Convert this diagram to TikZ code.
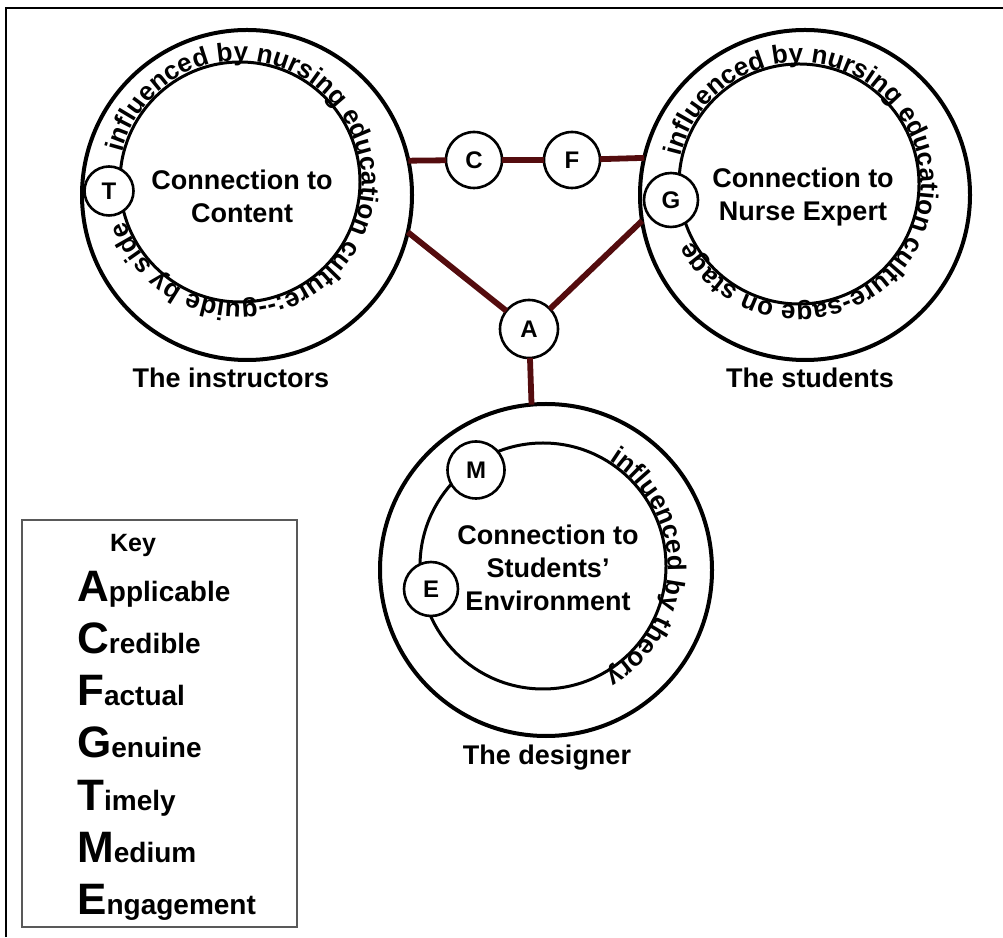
\documentclass[tikz,border=0pt]{standalone}
\usepackage{fontspec}
\setmainfont{Liberation Sans}
\usetikzlibrary{decorations.text}
\definecolor{linkred}{RGB}{84,12,14}

\begin{document}
\begin{tikzpicture}[x=1pt,y=1pt,
  ring/.style={circle, draw, line width=4pt, inner sep=0pt, outer sep=0pt, minimum size=#1},
  band/.style={draw, line width=3pt},
  badge/.style={circle, draw, fill=white, line width=2.6pt, inner sep=0pt, outer sep=0pt,
    minimum size=#1, font=\fontsize{24}{24}\selectfont\bfseries},
  title/.style={align=center, font=\fontsize{27}{33}\selectfont\bfseries},
  caption/.style={font=\fontsize{27}{27}\selectfont\bfseries},
  link/.style={draw=linkred, line width=5.8pt},
  keybox/.style={draw=black!65, line width=1.5pt, inner sep=0pt, minimum width=275pt, minimum height=407pt},
  keyrow/.style={anchor=base west, inner sep=0pt, font=\fontsize{28}{28}\selectfont\bfseries},
  curved/.style={decorate, decoration={text along path, text align=fit to path, text={#1}}},
]
\newcommand{\bigini}[1]{{\fontsize{44}{44}\selectfont #1}}
\newcommand{\ringfont}{\fontsize{26}{26}\selectfont\bfseries}
\useasboundingbox (0,0) rectangle (1003,937);

% outer frame
\draw[line width=2pt] (6,0) -- (6,929) -- (1003,929);

% ---- the instructors ----
\node[ring=330pt] (L) at (247,742) {};
\draw[band] (240,755) circle[radius=120];
\path[curved={|\ringfont|influenced by nursing education culture:--guide by side}]
  (240,755) ++(166:121.5) arc[start angle=166, end angle=-161, radius=121.5];
\node[title] (Lt) at (242,741) {Connection to\\Content};
\node[caption] (Lc) at (231,559) {The instructors};

% ---- the students ----
\node[ring=330pt] (R) at (805,742) {};
\draw[band] (799,753) circle[radius=120];
\path[curved={|\ringfont|influenced by nursing education culture-sage on stage}]
  (799,753) ++(167:121.5) arc[start angle=167, end angle=-152, radius=121.5];
\node[title] (Rt) at (803,740) {Connection to\\Nurse Expert};
\node[caption] (Rc) at (810,559) {The students};

% ---- the designer ----
\node[ring=332pt] (B) at (546,367) {};
\draw[band] (543,371) circle[radius=123];
\path[curved={|\ringfont|influenced by theory}]
  (543,371) ++(58:124.5) arc[start angle=58, end angle=-60, radius=124.5];
\node[title] (Bt) at (548,369) {Connection to\\Students’\\Environment};
\node[caption] (Bc) at (547,179) {The designer};

% ---- small letter badges ----
\node[badge=56pt] (C) at (474,777) {C};
\node[badge=56pt] (F) at (572,777) {F};
\node[badge=58pt] (A) at (529,608) {A};
\node[badge=49pt] (T) at (109,746) {T};
\node[badge=54pt] (G) at (671,737) {G};
\node[badge=57pt] (M) at (476,467) {M};
\node[badge=54pt] (E) at (431,348) {E};

% ---- connectors ----
\draw[link] (L.12.25) -- (C);
\draw[link] (C) -- (F);
\draw[link] (F) -- (R.167.75);
\draw[link] (L.-13.4) -- (A);
\draw[link] (R.-171.4) -- (A);
\draw[link] (A) -- (B.95.9);

% ---- key ----
\node[keybox] (key) at (159.5,213.5) {};
\node[font=\fontsize{25}{25}\selectfont\bfseries] (keyhead) at (133,392) {Key};
\node[keyrow] (kA) at (77,335) {\bigini{A}pplicable};
\node[keyrow] (kC) at (77,283) {\bigini{C}redible};
\node[keyrow] (kF) at (77,231) {\bigini{F}actual};
\node[keyrow] (kG) at (77,179) {\bigini{G}enuine};
\node[keyrow] (kT) at (77,127) {\bigini{T}imely};
\node[keyrow] (kM) at (77,75) {\bigini{M}edium};
\node[keyrow] (kE) at (77,23) {\bigini{E}ngagement};
\end{tikzpicture}
\end{document}
